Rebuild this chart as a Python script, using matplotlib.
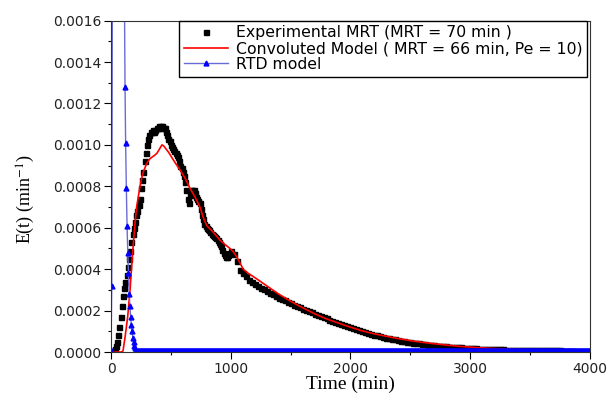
import numpy as np
import matplotlib
matplotlib.use("Agg")
import matplotlib.pyplot as plt

# experimental points (min, E in 1e-4 min^-1)
exp_t = [0, 10, 20, 30, 40, 50, 60, 70, 80, 90, 100, 110, 120, 130, 140, 150, 160, 170, 180, 190,
         200, 210, 220, 230, 240, 250, 260, 270, 280, 290, 300, 310, 320, 330, 340, 350, 360, 370, 380, 390,
         400, 410, 420, 430, 440, 450, 460, 470, 480, 490, 500, 510, 520, 530, 540, 550, 560, 570, 580, 590,
         600, 610, 620, 630, 640, 650, 660, 670, 680, 690, 700, 710, 720, 730, 740, 750, 760, 770, 780, 790,
         800, 810, 820, 830, 840, 850, 860, 870, 880, 890, 900, 910, 920, 930, 940, 950, 960, 970, 980, 990,
         1000, 1025, 1050, 1075, 1100, 1125, 1150, 1175, 1200, 1225, 1250, 1275, 1300, 1325, 1350, 1375,
         1400, 1425, 1450, 1475, 1500, 1525, 1550, 1575, 1600, 1625, 1650, 1675, 1700, 1725, 1750, 1775,
         1800, 1825, 1850, 1875, 1900, 1925, 1950, 1975, 2000, 2025, 2050, 2075, 2100, 2125, 2150, 2175,
         2200, 2225, 2250, 2275, 2300, 2325, 2350, 2375, 2400, 2425, 2450, 2475, 2500, 2525, 2550, 2575,
         2600, 2625, 2650, 2675, 2700, 2725, 2750, 2775, 2800, 2825, 2850, 2875, 2900, 2925, 2950, 2975,
         3000, 3025, 3050, 3075, 3100, 3125, 3150, 3175, 3200, 3225, 3250, 3275, 3300, 3325, 3350, 3375,
         3400, 3425, 3450, 3475, 3500, 3525, 3550, 3575, 3600, 3625, 3650, 3675, 3700, 3725, 3750, 3775,
         3800, 3825, 3850]
exp_E = [0.0, 0.0, 0.05, 0.15, 0.3, 0.5, 0.8, 1.2, 1.7, 2.2, 2.7, 3.1, 3.4, 3.7, 4.1, 4.5, 4.9, 5.3, 5.7, 6.0,
         6.3, 6.6, 6.8, 7.1, 7.4, 7.9, 8.3, 8.7, 9.2, 9.6, 10.0, 10.3, 10.5, 10.6, 10.6, 10.7, 10.6, 10.7, 10.8, 10.8,
         10.9, 10.8, 10.9, 10.9, 10.8, 10.8, 10.6, 10.5, 10.3, 10.2, 10.0, 9.9, 9.8, 9.7, 9.6, 9.5, 9.4, 9.2, 9.0, 8.9,
         8.7, 8.5, 8.2, 7.8, 7.4, 7.2, 7.6, 7.8, 7.8, 7.8, 7.7, 7.5, 7.4, 7.3, 7.2, 6.9, 6.6, 6.4, 6.2, 6.1,
         6.0, 5.95, 5.9, 5.8, 5.7, 5.65, 5.6, 5.55, 5.5, 5.4, 5.3, 5.2, 5.1, 4.95, 4.8, 4.7, 4.6, 4.6, 4.7, 4.8,
         4.9, 4.75, 4.4, 3.95, 3.8, 3.65, 3.5, 3.4, 3.3, 3.2, 3.1, 3.02, 2.95, 2.87, 2.79, 2.71,
         2.63, 2.56, 2.49, 2.42, 2.35, 2.28, 2.22, 2.16, 2.1, 2.04, 1.98, 1.92, 1.86, 1.8, 1.74, 1.68,
         1.62, 1.56, 1.5, 1.45, 1.4, 1.35, 1.3, 1.25, 1.2, 1.15, 1.1, 1.05, 1.0, 0.96, 0.92, 0.88,
         0.84, 0.8, 0.76, 0.73, 0.7, 0.67, 0.64, 0.61, 0.58, 0.55, 0.52, 0.5, 0.48, 0.46, 0.44, 0.42,
         0.4, 0.38, 0.36, 0.34, 0.33, 0.31, 0.3, 0.29, 0.27, 0.26, 0.25, 0.24, 0.23, 0.22, 0.21, 0.2,
         0.19, 0.18, 0.18, 0.17, 0.16, 0.16, 0.15, 0.15, 0.14, 0.14, 0.13, 0.13, 0.12, 0.12, 0.12, 0.11,
         0.11, 0.11, 0.1, 0.1, 0.1, 0.1, 0.09, 0.09, 0.09, 0.09, 0.08, 0.08, 0.08, 0.08, 0.08, 0.07,
         0.07, 0.07, 0.07]

# convoluted model
conv_t = [0, 60, 85, 100, 117, 128, 139, 150, 159, 172, 186, 200, 214, 228, 242, 256, 270, 284, 298,
          320, 340, 365, 384, 405, 425, 440, 460, 480, 507, 540, 576, 618, 660, 700, 743, 770, 800, 852,
          910, 950, 994, 1020, 1050, 1077, 1104, 1146, 1200, 1300, 1400, 1500, 1580, 1700, 1800, 1900,
          2000, 2100, 2200, 2300, 2400, 2500, 2600, 2700, 2800, 2900, 3000, 3100, 3200, 3300, 3400,
          3500, 3600, 3650]
conv_E = [0.0, 0.0, 0.0, 0.05, 0.7, 1.2, 1.7, 2.4, 3.0, 4.1, 5.2, 6.2, 7.0, 7.5, 8.0, 8.4, 8.7, 8.9, 9.1,
          9.3, 9.4, 9.5, 9.6, 9.8, 10.0, 9.95, 9.8, 9.65, 9.4, 9.1, 8.8, 8.4, 7.9, 7.5, 7.0, 6.5, 6.1, 5.8,
          5.4, 5.2, 5.0, 4.85, 4.6, 4.3, 4.0, 3.8, 3.6, 3.2, 2.8, 2.45, 2.2, 1.85, 1.6, 1.4,
          1.2, 1.02, 0.88, 0.76, 0.65, 0.55, 0.47, 0.4, 0.34, 0.28, 0.24, 0.2, 0.17, 0.15, 0.13,
          0.11, 0.1, 0.09]

# RTD model (peak goes far above the plotted range)
rtd_t = [0, 6, 20, 35, 50, 65, 80, 95, 110, 117, 122, 128, 134, 140, 146, 152, 158, 164, 170, 176,
         182, 188, 194, 200, 206, 212, 218, 226, 236, 4000]
rtd_E = [0.1, 3.2, 40.0, 120.0, 180.0, 160.0, 90.0, 42.0, 19.0, 12.8, 10.1, 7.9, 6.1, 4.8, 3.8, 2.8,
         2.2, 1.7, 1.3, 1.0, 0.7, 0.5, 0.3, 0.2, 0.1, 0.05, 0.02, 0.0, 0.0, 0.0]

scale = 1e-4
exp_E = np.array(exp_E) * scale
conv_E = np.array(conv_E) * scale
rtd_E = np.array(rtd_E) * scale
rtd_t = np.array(rtd_t)

plt.rcParams['mathtext.fontset'] = 'stix'

fig = plt.figure(figsize=(6.1, 3.96), dpi=100)
ax = fig.add_axes([0.182, 0.111, 0.785, 0.837])

ax.plot(exp_t, exp_E, linestyle='none', marker='s', ms=3.6, color='black',
        label='Experimental MRT (MRT = 70 min )')
ax.plot(conv_t, conv_E, color='#ff0000', lw=1.2,
        label='Convoluted Model ( MRT = 66 min, Pe = 10)')
ax.plot(rtd_t, rtd_E, color='#6b6bd6', lw=1.0, marker='^', ms=3.5,
        markerfacecolor='#0000ff', markeredgecolor='#0000ff', markevery=list(range(len(rtd_t) - 1)),
        label='RTD model')
# dense markers along the zero baseline show up as a thick band
zero = rtd_E == 0
ax.plot(rtd_t[zero], rtd_E[zero], color='#0000ff', lw=5.5, solid_capstyle='butt')

ax.set_xlim(0, 4000)
ax.set_ylim(0, 0.0016)
ax.set_xticks([0, 1000, 2000, 3000, 4000])
ax.set_xticks([500, 1500, 2500, 3500], minor=True)
ax.set_yticks(np.arange(0, 0.00161, 0.0002))
ax.set_yticks(np.arange(0.0001, 0.0016, 0.0002), minor=True)
ax.yaxis.set_major_formatter(matplotlib.ticker.FormatStrFormatter('%.4f'))

ax.tick_params(which='major', direction='out', length=5, width=0.8, labelsize=10,
               labelcolor='#222222', pad=2)
ax.tick_params(which='minor', direction='out', length=2.5, width=0.8)
for s in ax.spines.values():
    s.set_linewidth(0.8)
    s.set_color('#333333')

ax.set_xlabel('Time (min)', fontsize=14, family='Liberation Serif', labelpad=0)
ax.set_ylabel('E(t) (min$^{-1}$)', fontsize=13, family='Liberation Serif')
ax.yaxis.set_label_coords(-0.155, 0.46)

leg = ax.legend(loc='upper right', bbox_to_anchor=(0.994, 1.0), borderaxespad=0,
                fontsize=11.3, frameon=True, fancybox=False, framealpha=1,
                edgecolor='black', borderpad=0.3, labelspacing=0.05,
                handlelength=2.8, handletextpad=0.5, numpoints=1)
leg.get_frame().set_linewidth(1.0)

fig.savefig('out.png', dpi=100)
